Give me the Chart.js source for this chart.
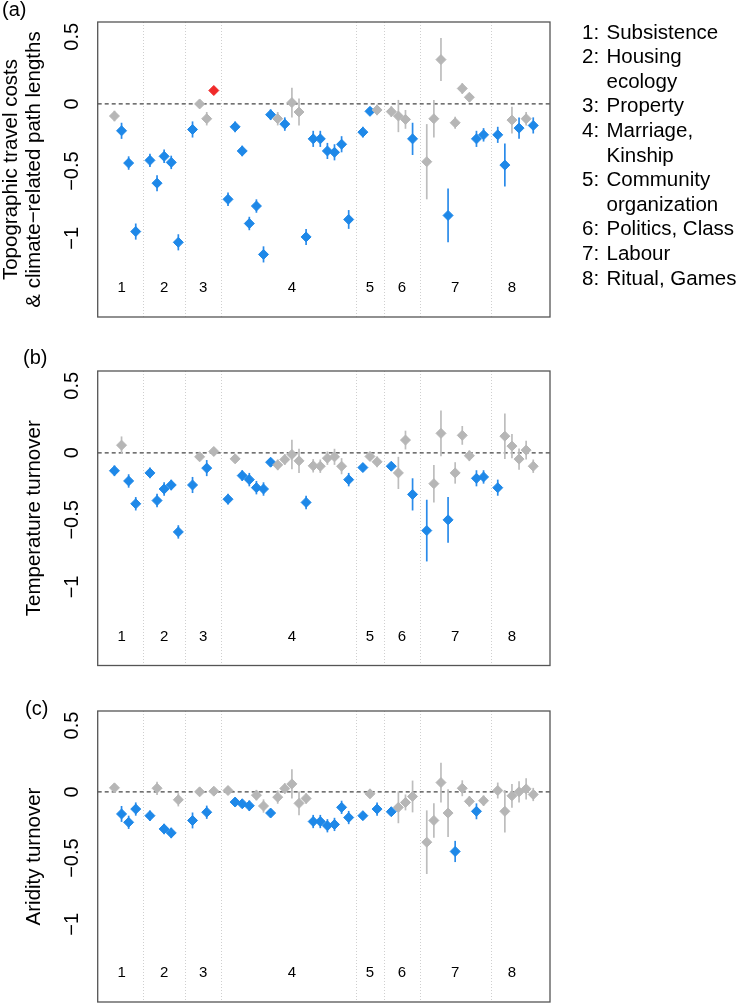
<!DOCTYPE html>
<html><head><meta charset="utf-8">
<script src="https://cdn.jsdelivr.net/npm/chart.js@4.4.1/dist/chart.umd.min.js"></script>
<style>
html,body{margin:0;padding:0;background:#fff;overflow:hidden;width:743px;height:1008px}
canvas{position:absolute;left:0;top:0}
</style></head><body>
<canvas id="ca" width="743" height="1008"></canvas>
<canvas id="cb" width="743" height="1008"></canvas>
<canvas id="cc" width="743" height="1008"></canvas>
<script>
// ---------- data ----------
const groupSizes = [4, 5, 4, 18, 3, 4, 9, 6];
const groupLabels = ['1', '2', '3', '4', '5', '6', '7', '8'];
const groupLabelPos = [1.0, 7, 12.5, 25, 36, 40.5, 48, 56];
const yTickValues = [0.5, 0, -0.5, -1];
const yTickLabels = ['0.5', '0', '\u22120.5', '\u22121'];
const legendItems = [
  ['1:', 'Subsistence'],
  ['2:', 'Housing', 'ecology'],
  ['3:', 'Property'],
  ['4:', 'Marriage,', 'Kinship'],
  ['5:', 'Community', 'organization'],
  ['6:', 'Politics, Class'],
  ['7:', 'Labour'],
  ['8:', 'Ritual, Games']
];

const valuesA = [
  -0.09, -0.20, -0.44, -0.95,
  -0.42, -0.59, -0.39, -0.435, -1.03,
  -0.19, 0.0, -0.11, 0.10,
  -0.71, -0.17, -0.35, -0.89, -0.76, -1.12, -0.08, -0.11, -0.15, 0.01, -0.06, -0.99, -0.26, -0.26, -0.35, -0.36, -0.30, -0.86,
  -0.21, -0.055, -0.045,
  -0.057, -0.09, -0.115, -0.26,
  -0.43, -0.11, 0.33, -0.83, -0.14, 0.115, 0.05, -0.26, -0.23,
  -0.23, -0.455, -0.12, -0.18, -0.11, -0.16
];
const errorsA = [
  0.04, 0.06, 0.05, 0.06,
  0.05, 0.06, 0.05, 0.05, 0.06,
  0.06, 0.03, 0.05, 0.02,
  0.05, 0.04, 0.04, 0.05, 0.05, 0.06, 0.04, 0.05, 0.05, 0.11, 0.10, 0.06, 0.06, 0.06, 0.06, 0.06, 0.06, 0.07,
  0.04, 0.03, 0.04,
  0.04, 0.12, 0.07, 0.12,
  0.28, 0.14, 0.16, 0.20, 0.045, 0.04, 0.03, 0.06, 0.05,
  0.06, 0.16, 0.10, 0.08, 0.05, 0.06
];
const colorsA = [
  'g','b','b','b',
  'b','b','b','b','b',
  'b','g','g','r',
  'b','b','b','b','b','b','b','g','b','g','g','b','b','b','b','b','b','b',
  'b','b','g',
  'g','g','g','b',
  'g','g','g','b','g','g','g','b','b',
  'b','b','g','b','g','b'
];

const valuesB = [
  -0.134, 0.057, -0.21, -0.38,
  -0.15, -0.356, -0.27, -0.24, -0.59,
  -0.24, -0.03, -0.114, 0.01,
  -0.346, -0.045, -0.17, -0.20, -0.26, -0.27, -0.07, -0.09, -0.05, -0.012, -0.06, -0.37, -0.097, -0.10, -0.04, -0.03, -0.10, -0.20,
  -0.11, -0.027, -0.067,
  -0.10, -0.15, 0.095, -0.31,
  -0.58, -0.23, 0.145, -0.50, -0.15, 0.13, -0.022, -0.19, -0.18,
  -0.26, 0.124, 0.05, -0.047, 0.02, -0.10
];
const errorsB = [
  0.04, 0.065, 0.05, 0.05,
  0.04, 0.05, 0.05, 0.04, 0.05,
  0.06, 0.03, 0.06, 0.03,
  0.04, 0.03, 0.04, 0.05, 0.05, 0.05, 0.03, 0.04, 0.04, 0.11, 0.09, 0.05, 0.05, 0.05, 0.05, 0.06, 0.06, 0.05,
  0.03, 0.03, 0.04,
  0.03, 0.12, 0.07, 0.12,
  0.23, 0.14, 0.17, 0.17, 0.08, 0.07, 0.04, 0.06, 0.05,
  0.06, 0.17, 0.09, 0.08, 0.07, 0.05
];
const colorsB = [
  'b','g','b','b',
  'b','b','b','b','b',
  'b','g','b','g',
  'b','g','b','b','b','b','b','g','g','g','g','b','g','g','g','g','g','b',
  'b','g','g',
  'b','g','g','b',
  'b','g','g','b','g','g','g','b','b',
  'b','g','g','g','g','g'
];

const valuesC = [
  0.03, -0.167, -0.23, -0.13,
  -0.18, 0.027, -0.28, -0.31, -0.06,
  -0.216, 0.0, -0.154, 0.005,
  0.01, -0.077, -0.09, -0.105, -0.025, -0.107, -0.16, -0.04, 0.025, 0.06, -0.087, -0.05, -0.224, -0.224, -0.256, -0.246, -0.117, -0.194,
  -0.18, -0.015, -0.13,
  -0.15, -0.117, -0.08, -0.035,
  -0.38, -0.216, 0.07, -0.16, -0.45, 0.027, -0.072, -0.147, -0.067,
  0.01, -0.147, -0.03, 0.0, 0.022, -0.02
];
const errorsC = [
  0.03, 0.06, 0.05, 0.05,
  0.04, 0.05, 0.04, 0.04, 0.05,
  0.06, 0.03, 0.05, 0.03,
  0.03, 0.03, 0.03, 0.04, 0.04, 0.05, 0.03, 0.05, 0.04, 0.11, 0.09, 0.04, 0.05, 0.05, 0.05, 0.05, 0.05, 0.05,
  0.03, 0.03, 0.05,
  0.03, 0.12, 0.06, 0.12,
  0.24, 0.13, 0.15, 0.18, 0.08, 0.06, 0.04, 0.06, 0.04,
  0.06, 0.16, 0.09, 0.08, 0.08, 0.05
];
const colorsC = [
  'g','b','b','b',
  'b','g','b','b','g',
  'b','g','b','g',
  'g','b','b','b','g','g','b','g','g','g','g','g','b','b','b','b','b','b',
  'b','g','b',
  'b','g','g','g',
  'g','g','g','g','b','g','g','b','g',
  'g','g','g','g','g','g'
];

// ---------- styling ----------
const FONT = '"Liberation Sans", Arial, Helvetica, sans-serif';
const COLORS = { b: '#1E88E8', g: '#B6B6B6', r: '#F02A2A' };
const BAR_COLORS = { b: '#2A8BEA', g: '#BDBDBD', r: '#F02A2A' };

// slot positions (one empty slot between groups)
const slots = [];
const separators = [];
(function () {
  let s = 0;
  groupSizes.forEach((n, gi) => {
    for (let i = 0; i < n; i++) slots.push(s++);
    if (gi < groupSizes.length - 1) separators.push(s);
    s++;
  });
})();
const lastSlot = slots[slots.length - 1];
const xPad = 0.04 * lastSlot;

function makePanel(id, values, errors, colors, boxTop, boxBottom, titleLines, label, labelX, labelBase, withLegend) {
  const keys = ['g', 'b', 'r'];
  const datasets = keys.map(k => ({
    data: values.map((v, i) => ({ x: slots[i], y: v, e: errors[i], c: colors[i] })).filter(p => p.c === k),
    backgroundColor: COLORS[k],
    borderColor: COLORS[k],
    borderWidth: 1,
    pointStyle: 'rectRot',
    pointRadius: 5,
    pointHoverRadius: 5
  }));

  const deco = {
    id: 'deco' + id,
    beforeDatasetsDraw(chart) {
      const { ctx, chartArea: a, scales: { x, y } } = chart;
      ctx.save();
      // separators
      ctx.strokeStyle = '#CFCFCF';
      ctx.lineWidth = 1;
      ctx.setLineDash([1, 2]);
      separators.forEach(s => {
        const px = Math.round(x.getPixelForValue(s)) + 0.5;
        ctx.beginPath(); ctx.moveTo(px, a.top); ctx.lineTo(px, a.bottom); ctx.stroke();
      });
      // zero line
      ctx.strokeStyle = '#444';
      ctx.lineWidth = 1.3;
      ctx.setLineDash([4, 3]);
      const y0 = y.getPixelForValue(0);
      ctx.beginPath(); ctx.moveTo(a.left, y0); ctx.lineTo(a.right, y0); ctx.stroke();
      ctx.setLineDash([]);
      // error bars
      ctx.lineWidth = 1.7;
      values.forEach((v, i) => {
        const px = x.getPixelForValue(slots[i]);
        ctx.strokeStyle = BAR_COLORS[colors[i]];
        ctx.beginPath();
        ctx.moveTo(px, y.getPixelForValue(v + errors[i]));
        ctx.lineTo(px, y.getPixelForValue(v - errors[i]));
        ctx.stroke();
      });
      ctx.restore();
    },
    afterDraw(chart) {
      const { ctx, chartArea: a, scales: { x, y } } = chart;
      ctx.save();
      // box
      ctx.strokeStyle = '#555';
      ctx.lineWidth = 1.3;
      ctx.strokeRect(a.left, a.top, a.right - a.left, a.bottom - a.top);
      // y tick labels (rotated)
      ctx.fillStyle = '#000';
      ctx.font = '20px ' + FONT;
      ctx.textAlign = 'center';
      ctx.textBaseline = 'alphabetic';
      yTickValues.forEach((v, i) => {
        ctx.save();
        ctx.translate(78, y.getPixelForValue(v));
        ctx.rotate(-Math.PI / 2);
        ctx.fillText(yTickLabels[i], 0, 0);
        ctx.restore();
      });
      // axis title
      const cy = (a.top + a.bottom) / 2;
      ctx.font = '20.5px ' + FONT;
      const bases = titleLines.length === 2 ? [17, 40] : [40];
      titleLines.forEach((t, i) => {
        ctx.save();
        ctx.translate(bases[i], cy);
        ctx.rotate(-Math.PI / 2);
        ctx.fillText(t, 0, 0);
        ctx.restore();
      });
      // panel label
      ctx.textAlign = 'left';
      ctx.font = '20px ' + FONT;
      ctx.fillText(label, labelX, labelBase);
      // group labels
      ctx.font = '15px ' + FONT;
      ctx.textAlign = 'center';
      ctx.textBaseline = 'middle';
      groupLabels.forEach((g, i) => {
        ctx.fillText(g, x.getPixelForValue(groupLabelPos[i]), a.bottom - 29);
      });
      // legend
      if (withLegend) {
        ctx.font = '20.5px ' + FONT;
        ctx.textAlign = 'left';
        ctx.textBaseline = 'alphabetic';
        let base = 38.5;
        legendItems.forEach(item => {
          ctx.fillText(item[0], 582, base);
          for (let j = 1; j < item.length; j++) {
            ctx.fillText(item[j], 606.5, base);
            base += 24.6;
          }
        });
      }
      ctx.restore();
    }
  };

  return new Chart(document.getElementById(id), {
    type: 'scatter',
    data: { datasets },
    options: {
      responsive: false,
      animation: false,
      devicePixelRatio: 1,
      layout: { padding: { left: 97.7, right: 743 - 550, top: boxTop, bottom: 1008 - boxBottom } },
      plugins: { legend: { display: false }, tooltip: { enabled: false } },
      scales: {
        x: { type: 'linear', display: false, min: -xPad, max: lastSlot + xPad },
        y: { type: 'linear', display: false, min: -1.586, max: 0.61 }
      }
    },
    plugins: [deco]
  });
}

makePanel('ca', valuesA, errorsA, colorsA, 22, 317, ['Topographic travel costs', '& climate\u2212related path lengths'], '(a)', 2, 16, true);
makePanel('cb', valuesB, errorsB, colorsB, 371, 665.5, ['Temperature turnover'], '(b)', 23, 364, false);
makePanel('cc', valuesC, errorsC, colorsC, 711, 1006, ['Aridity turnover'], '(c)', 25, 715, false);
</script>
</body></html>
